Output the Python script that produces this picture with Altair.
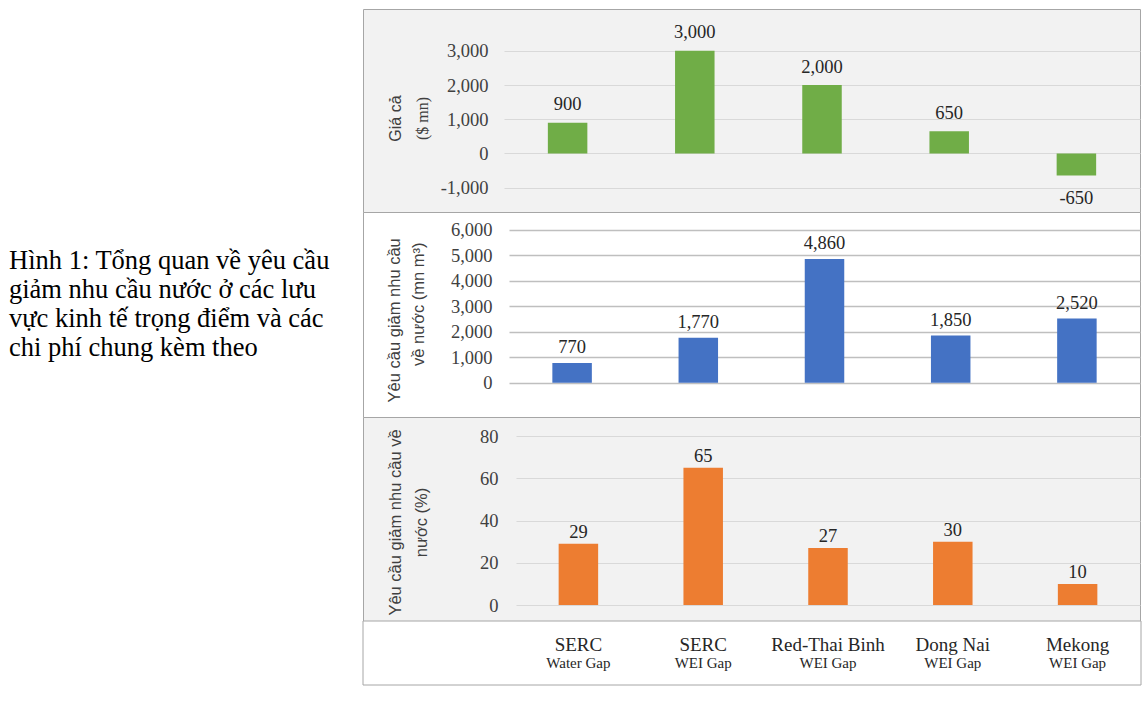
import altair as alt
import pandas as pd

# ---------------- data ----------------
cat_keys = ["SERC|Water Gap", "SERC|WEI Gap", "Red-Thai Binh|WEI Gap", "Dong Nai|WEI Gap", "Mekong|WEI Gap"]
cat_main = ["SERC", "SERC", "Red-Thai Binh", "Dong Nai", "Mekong"]
cat_sub = ["Water Gap", "WEI Gap", "WEI Gap", "WEI Gap", "WEI Gap"]
cost_values = [900, 3000, 2000, 650, -650]
demand_values = [770, 1770, 4860, 1850, 2520]
percent_values = [29, 65, 27, 30, 10]
cost_ticks = [-1000, 0, 1000, 2000, 3000]
demand_ticks = [0, 1000, 2000, 3000, 4000, 5000, 6000]
percent_ticks = [0, 20, 40, 60, 80]
caption_lines = [
    "Hình 1: Tổng quan về yêu cầu",
    "giảm nhu cầu nước ở các lưu",
    "vực kinh tế trọng điểm và các",
    "chi phí chung kèm theo",
]

df = pd.DataFrame({
    "key": cat_keys,
    "main": cat_main,
    "sub": cat_sub,
    "cost": cost_values,
    "demand": demand_values,
    "percent": percent_values,
})
df["cost_label"] = [f"{v:,}" for v in cost_values]
df["demand_label"] = [f"{v:,}" for v in demand_values]
df["percent_label"] = [f"{v:,}" for v in percent_values]
one = pd.DataFrame({"a": [0]})

# ---------------- style ----------------
SERIF = "Liberation Serif"
SANS = "Liberation Sans"
GREEN, BLUE, ORANGE = "#70AD47", "#4472C4", "#ED7D31"
BG = "#F2F2F2"
BORDER = "#A6A6A6"
TXT = "#404040"
VAL = "#262626"
W = 777


def make_panel(field, ticks, domain, height, x_start, color, grid_color, grid_width,
               bg, label_pad, dy_pos, dy_neg, titles, extra=None):
    xenc = alt.X("key:N", sort=cat_keys,
                 scale=alt.Scale(type="band", paddingInner=0, paddingOuter=0, range=[x_start, W]),
                 axis=None)
    yenc = alt.Y(f"{field}:Q",
                 scale=alt.Scale(domain=domain, nice=False, zero=False),
                 axis=alt.Axis(values=ticks, grid=True, gridColor=grid_color, gridWidth=grid_width,
                               domain=False, ticks=False, offset=-141, labelPadding=label_pad,
                               labelFont=SERIF, labelFontSize=18.5, labelColor=TXT,
                               labelOverlap=False,
                               labelExpr="replace(format(datum.value, ','), '\u2212', '-')",
                               title=None))
    bars = alt.Chart(df).mark_bar(width=39.5, color=color).encode(
        x=xenc, y=yenc, y2=alt.datum(0))
    pos_labels = alt.Chart(df).transform_filter(f"datum.{field} >= 0").mark_text(
        font=SERIF, fontSize=18.5, color=VAL, baseline="alphabetic", dy=dy_pos).encode(
        x=xenc, y=yenc, text=f"{field}_label:N")
    layers = [bars, pos_labels]
    if dy_neg is not None:
        neg_labels = alt.Chart(df).transform_filter(f"datum.{field} < 0").mark_text(
            font=SERIF, fontSize=18.5, color=VAL, baseline="alphabetic", dy=dy_neg).encode(
            x=xenc, y=yenc, text=f"{field}_label:N")
        layers.append(neg_labels)
    for (txt, fx, fy, fnt, fs) in titles:
        layers.append(alt.Chart(one).mark_text(
            text=txt, font=fnt, fontSize=fs, color=TXT, angle=270,
            align="center", baseline="middle").encode(x=alt.value(fx), y=alt.value(fy)))
    if extra:
        layers.extend(extra(xenc))
    return alt.layer(*layers).properties(
        width=W, height=height,
        view=alt.ViewBackground(fill=bg, stroke=BORDER, strokeWidth=1))


caption = alt.Chart(one).mark_text(
    text="\n".join(caption_lines), lineBreak="\n", lineHeight=29,
    font=SERIF, fontSize=26.5, color="#000000", align="left", baseline="alphabetic"
).encode(x=alt.value(-354), y=alt.value(260))


def extra1(xenc):
    return [caption]


def extra3(xenc):
    box = alt.Chart(one).mark_rect(fill="#FFFFFF", stroke=BORDER, strokeWidth=1).encode(
        x=alt.value(0), x2=alt.value(W + 1), y=alt.value(204), y2=alt.value(268))
    main_t = alt.Chart(df).mark_text(font=SERIF, fontSize=19, color=VAL, baseline="alphabetic").encode(
        x=xenc, y=alt.value(234), text="main:N")
    sub_t = alt.Chart(df).mark_text(font=SERIF, fontSize=15, color=VAL, baseline="alphabetic").encode(
        x=xenc, y=alt.value(251), text="sub:N")
    return [box, main_t, sub_t]


p1 = make_panel("cost", cost_ticks, [-1715, 4225], 203, 141, GREEN, "#D9D9D9", 1, BG,
                16, -12.5, 28.5,
                [("Giá cả", 33, 109.5, SANS, 16), ("($ mn)", 60, 109.5, SERIF, 16)],
                extra1)
p2 = make_panel("demand", demand_ticks, [-1348, 6707], 205, 146, BLUE, "#BFBFBF", 1.3, "#FFFFFF",
                12, -10, None,
                [("Yêu cầu giảm nhu cầu", 32, 108.3, SANS, 16.5),
                 ("về nước (mn m³)", 56, 92.2, SANS, 16.5)])
p3 = make_panel("percent", percent_ticks, [-7.57, 89.0], 204, 153, ORANGE, "#D9D9D9", 1, BG,
                6, -6, None,
                [("Yêu cầu giảm nhu cầu về", 33, 105.5, SANS, 16.5),
                 ("nước  (%)", 58.7, 105.5, SANS, 16.5)],
                extra3)

chart = alt.vconcat(p1, p2, p3, spacing=0, bounds="flush").properties(
    padding={"left": 8, "top": 8, "right": 2, "bottom": 2},
    background="#FFFFFF",
).configure_view(stroke="transparent")

chart.save("out.html", embed_options={"renderer": "svg", "actions": False})
